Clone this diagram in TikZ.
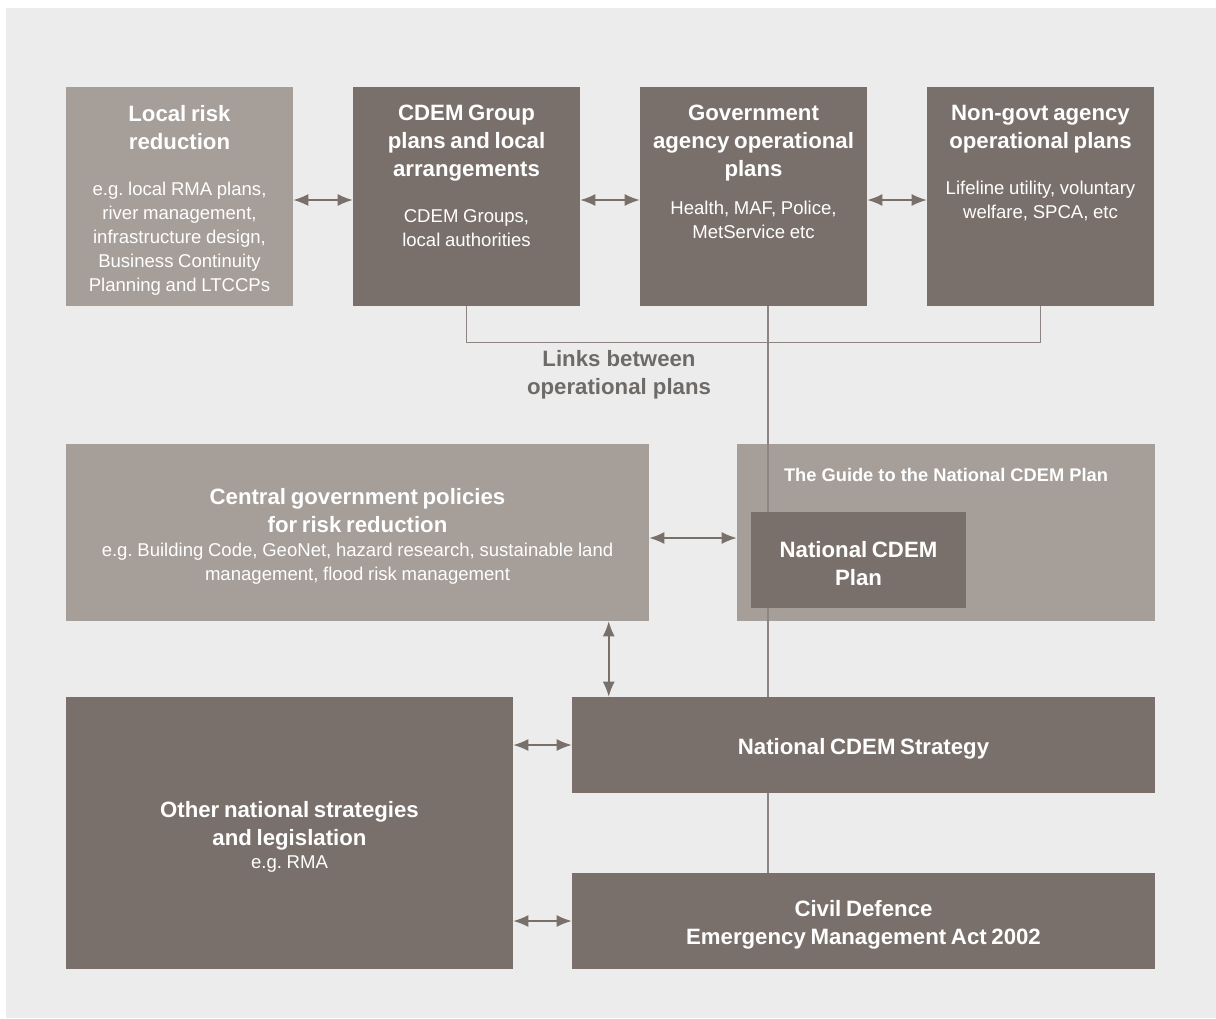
\documentclass[tikz,border=0pt]{standalone}
\usepackage{fontspec}
\setmainfont{Liberation Sans}
\usetikzlibrary{arrows.meta,positioning}
\definecolor{bgc}{HTML}{ECECEC}
\definecolor{darkc}{HTML}{7A706B}
\definecolor{lightc}{HTML}{A69E98}
\definecolor{linkc}{HTML}{8C8581}
\definecolor{labelc}{HTML}{6E6A68}
\frenchspacing
\newcommand{\ttl}[1]{{\fontsize{15.8}{19.9}\selectfont\bfseries #1\par}}
\newcommand{\bdy}[1]{{\fontsize{13.2}{17}\selectfont #1\par}}

\begin{document}
\begin{tikzpicture}[node distance=7.175cm,
    darkbox/.style={rectangle, fill=darkc, text=white, minimum width=5.675cm, minimum height=5.475cm, inner sep=0pt, align=center},
    lightbox/.style={darkbox, fill=lightc},
    lowtext/.style={execute at begin node={\rule{0pt}{17pt}}},
    boxtext/.style={text=white, text width=5.4cm, align=center, inner sep=0pt},
    line/.style={draw=darkc, line width=1.1pt, {Latex[length=0.375cm,width=0.3cm]}-{Latex[length=0.375cm,width=0.3cm]}},
    link/.style={draw=linkc, line width=0.75pt}]

    \useasboundingbox (0,0) rectangle (30.4,-25.45);
    \fill [bgc] (0.15,-0.2) rectangle (30.4,-25.45);

    \node [lightbox] (loc) at (4.4875,-4.9125) {};
    \node [darkbox, right of=loc] (grp) {};
    \node [darkbox, right of=grp] (gov) {};
    \node [darkbox, right of=gov] (ngo) {};

    \node [boxtext, below=0.45cm of loc.north] (loctext) {\ttl{Local risk\\reduction}\vspace{16pt}\bdy{e.g. local RMA plans,\\river management,\\infrastructure design,\\Business Continuity\\Planning and LTCCPs}};
    \node [boxtext, below=0.45cm of grp.north] (grptext) {\ttl{CDEM Group\\plans and local\\arrangements}\vspace{16pt}\bdy{CDEM Groups,\\local authorities}};
    \node [boxtext, below=0.45cm of gov.north] (govtext) {\ttl{Government\\agency operational\\plans}\vspace{10pt}\bdy{Health, MAF, Police,\\MetService etc}};
    \node [boxtext, below=0.45cm of ngo.north] (ngotext) {\ttl{Non-govt agency\\operational plans}\vspace{16pt}\bdy{Lifeline utility, voluntary\\welfare, SPCA, etc}};

    \node [lightbox, lowtext, minimum width=14.575cm, minimum height=4.425cm, text width=14.2cm] (cgp) at (8.9375,-13.3125) {\ttl{Central government policies\\for risk reduction}\bdy{e.g. Building Code, GeoNet, hazard research, sustainable land\\management, flood risk management}};
    \node [lightbox, minimum width=10.45cm, minimum height=4.425cm, right of=cgp, node distance=14.7125cm] (guide) {};
    \node [below=0.6cm of guide.north, text=white, inner sep=0pt, font=\fontsize{13}{16}\selectfont\bfseries] (guidetitle) {The Guide to the National CDEM Plan};

    \node [darkbox, lowtext, minimum width=11.175cm, minimum height=6.8cm, text width=10.8cm] (oth) at (7.2375,-20.825) {\ttl{Other national strategies\\and legislation}\bdy{e.g. RMA}};
    \node [darkbox, lowtext, minimum width=14.575cm, minimum height=2.4cm, text width=14.2cm] (str) at (21.5875,-18.625) {\ttl{National CDEM Strategy}};
    \node [darkbox, lowtext, minimum width=14.575cm, minimum height=2.4cm, text width=14.2cm, below of=str, node distance=4.4cm] (act) {\ttl{Civil Defence\\Emergency Management Act 2002}};

    \path [link] (grp.south) -- ++(0,-0.9) -| (ngo.south);
    \path [link] ([xshift=0.3625cm]gov.south) -- ([xshift=0.3625cm]gov.south |- str.north);
    \path [link] ([xshift=0.3625cm]gov.south |- str.south) -- ([xshift=0.3625cm]gov.south |- act.north);
    \node [text=labelc, align=center, inner sep=0pt, font=\fontsize{15.8}{19.9}\selectfont\bfseries] (linklabel) at (15.475,-9.375) {Links between\\operational plans};

    \node [darkbox, lowtext, minimum width=5.375cm, minimum height=2.4cm, text width=5.2cm] (ncp) at (21.4625,-14.0) {\ttl{National CDEM\\Plan}};

    \path [line] ([yshift=-0.0875cm]loc.east) -- ([yshift=-0.0875cm]grp.west);
    \path [line] ([yshift=-0.0875cm]grp.east) -- ([yshift=-0.0875cm]gov.west);
    \path [line] ([yshift=-0.0875cm]gov.east) -- ([yshift=-0.0875cm]ngo.west);
    \path [line] ([yshift=-0.1375cm]cgp.east) -- ([yshift=-0.1375cm]guide.west);
    \path [line] ([xshift=0.925cm]str.north west |- cgp.south) -- ([xshift=0.925cm]str.north west);
    \path [line] (oth.east |- str.west) -- (str.west);
    \path [line] (oth.east |- act.west) -- (act.west);
\end{tikzpicture}
\end{document}
